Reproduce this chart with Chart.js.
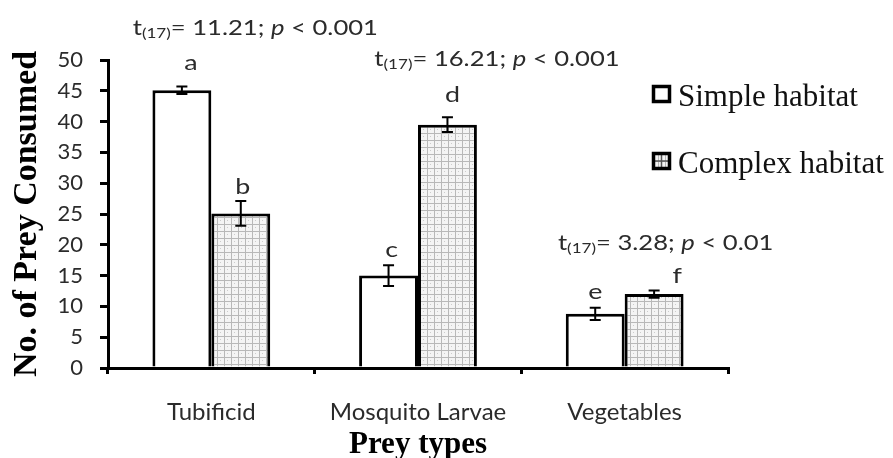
<!DOCTYPE html>
<html>
<head>
<meta charset="utf-8">
<script src="https://cdn.jsdelivr.net/npm/chart.js@4.4.1/dist/chart.umd.min.js"></script>
<style>
  html, body { margin: 0; padding: 0; background: #fff; }
  #wrap { width: 893px; height: 458px; }
</style>
</head>
<body>
<div id="wrap"><canvas id="myChart" width="893" height="458"></canvas></div>
<script>
// Datos
const categories = ['Tubificid', 'Mosquito Larvae', 'Vegetables'];
const seriesNames = ['Simple habitat', 'Complex habitat'];
const simpleValues = [45.1, 15.0, 8.8];
const complexValues = [25.1, 39.5, 12.0];
const simpleErrors = [0.6, 1.7, 1.0];
const complexErrors = [2.0, 1.2, 0.6];
const yTicks = { min: 0, max: 50, step: 5 };

// Letras de significancia: [serie, categoría, letra]
const letters = [[0, 0, 'a'], [1, 0, 'b'], [0, 1, 'c'], [1, 1, 'd'], [0, 2, 'e'], [1, 2, 'f']];
// Resultados de la prueba t por categoría
const tStats = [['11.21', '0.001'], ['16.21', '0.001'], ['3.28', '0.01']];

// Posición de las etiquetas (en unidades del eje y / desplazamiento px)
const letterPos = [[49.6, 9], [29.4, 2], [19.2, 3], [44.3, 5], [12.3, 0], [14.9, 23]];
const statPos = [[55.2, 44], [50.2, 79], [20.3, 41]];

const inkColor = '#2b2b2b';
const sansFont = 'Lato, "Liberation Sans", sans-serif';
const serifFont = '"Liberation Serif", "DejaVu Serif", serif';
const stretchX = 1.22; // la figura original está estirada en horizontal

// Patrón de cuadrícula para el hábitat complejo
function makeGridPattern() {
    const c = document.createElement('canvas');
    c.width = 7; c.height = 7;
    const g = c.getContext('2d');
    g.fillStyle = '#f4f4f4';
    g.fillRect(0, 0, 7, 7);
    g.fillStyle = '#b8b8b8';
    g.fillRect(0, 0, 7, 1);
    g.fillRect(0, 0, 1, 7);
    g.fillStyle = '#cccccc';
    g.fillRect(3, 3, 1, 1);
    return g.createPattern(c, 'repeat');
}
const gridPattern = makeGridPattern();

// texto estirado horizontalmente alrededor de (x, y)
function stretchedText(ctx, txt, x, y) {
    ctx.save();
    ctx.translate(x, y);
    ctx.scale(stretchX, 1);
    ctx.fillText(txt, 0, 0);
    ctx.restore();
}

// Barras de error, letras, estadísticos y leyenda
const annotations = {
    id: 'annotations',
    afterDatasetsDraw(chart) {
        const ctx = chart.ctx;
        const x = chart.scales.x, y = chart.scales.y;
        const errs = [simpleErrors, complexErrors];
        ctx.save();

        // barras de error
        ctx.strokeStyle = '#000';
        ctx.lineWidth = 2;
        chart.data.datasets.forEach((ds, i) => {
            chart.getDatasetMeta(i).data.forEach((bar, j) => {
                const v = ds.data[j], e = errs[i][j];
                const top = y.getPixelForValue(v + e);
                const bot = y.getPixelForValue(v - e);
                ctx.beginPath();
                ctx.moveTo(bar.x, top); ctx.lineTo(bar.x, bot);
                ctx.moveTo(bar.x - 5.5, top); ctx.lineTo(bar.x + 5.5, top);
                ctx.moveTo(bar.x - 5.5, bot); ctx.lineTo(bar.x + 5.5, bot);
                ctx.stroke();
            });
        });

        // letras
        ctx.fillStyle = inkColor;
        ctx.textAlign = 'center';
        ctx.textBaseline = 'middle';
        ctx.font = '22px ' + sansFont;
        letters.forEach(([s, c, txt], k) => {
            const bar = chart.getDatasetMeta(s).data[c];
            stretchedText(ctx, txt, bar.x + letterPos[k][1], y.getPixelForValue(letterPos[k][0]));
        });

        // estadísticos t
        tStats.forEach(([tv, pv], c) => {
            const parts = [
                { t: 't', f: '21px ' + sansFont, dy: 0 },
                { t: '(17)', f: '14px ' + sansFont, dy: 6 },
                { t: '= ' + tv + '; ', f: '21px ' + sansFont, dy: 0 },
                { t: 'p', f: 'italic 21px ' + sansFont, dy: 0 },
                { t: ' < ' + pv, f: '21px ' + sansFont, dy: 0 }
            ];
            let w = 0;
            parts.forEach(p => { ctx.font = p.f; p.w = ctx.measureText(p.t).width * stretchX; w += p.w; });
            let cx = x.getPixelForValue(c) + statPos[c][1] - w / 2;
            const cy = y.getPixelForValue(statPos[c][0]);
            ctx.textAlign = 'left';
            parts.forEach(p => {
                ctx.font = p.f;
                stretchedText(ctx, p.t, cx, cy + p.dy);
                cx += p.w;
            });
        });

        // leyenda
        const lx = chart.chartArea.right - 76;
        const rows = [85, 152];
        ctx.font = '31px ' + serifFont;
        ctx.textAlign = 'left';
        ctx.textBaseline = 'alphabetic';
        seriesNames.forEach((name, i) => {
            const ly = rows[i];
            ctx.fillStyle = i === 0 ? '#fff' : gridPattern;
            ctx.fillRect(lx, ly, 19, 18);
            if (i === 1) {
                ctx.strokeStyle = '#555';
                ctx.lineWidth = 1.5;
                ctx.beginPath();
                ctx.moveTo(lx + 9.5, ly); ctx.lineTo(lx + 9.5, ly + 18);
                ctx.moveTo(lx, ly + 9); ctx.lineTo(lx + 19, ly + 9);
                ctx.stroke();
            }
            ctx.strokeStyle = '#000';
            ctx.lineWidth = 3.5;
            ctx.strokeRect(lx + 1.5, ly + 1.5, 16, 15);
            ctx.fillStyle = '#111';
            ctx.fillText(name, lx + 26, ly + 21);
        });
        ctx.restore();
    }
};

const ctx = document.getElementById('myChart').getContext('2d');
const myChart = new Chart(ctx, {
    type: 'bar',
    data: {
        labels: categories,
        datasets: [{
            label: seriesNames[0],
            data: simpleValues,
            backgroundColor: '#ffffff',
            borderColor: '#000000',
            borderWidth: 3
        }, {
            label: seriesNames[1],
            data: complexValues,
            backgroundColor: gridPattern,
            borderColor: '#000000',
            borderWidth: 3
        }]
    },
    options: {
        responsive: false,
        animation: false,
        events: [],
        layout: { padding: { top: 60, right: 165, left: 0, bottom: 0 } },
        datasets: { bar: { categoryPercentage: 0.57, barPercentage: 1.0 } },
        plugins: { legend: { display: false }, tooltip: { enabled: false } },
        scales: {
            x: {
                afterFit(scale) { scale.height = 90; },
                border: { color: '#000', width: 3 },
                grid: { display: true, drawOnChartArea: false, color: '#000', lineWidth: 3, tickLength: 6, offset: true },
                ticks: { color: inkColor, font: { family: sansFont, size: 24 }, padding: 24 },
                title: {
                    display: true, text: 'Prey types', color: '#000',
                    font: { family: serifFont, size: 31, weight: 'bold', lineHeight: 1 },
                    padding: { top: 0, bottom: -2 }
                }
            },
            y: {
                min: yTicks.min,
                max: yTicks.max,
                afterFit(scale) { scale.width = 108; },
                border: { color: '#000', width: 3 },
                grid: { display: true, drawOnChartArea: false, color: '#000', lineWidth: 3, tickLength: 8 },
                ticks: { stepSize: yTicks.step, color: inkColor, font: { family: sansFont, size: 22 }, padding: 17 },
                title: {
                    display: true, text: 'No. of Prey Consumed', color: '#000',
                    font: { family: serifFont, size: 34, weight: 'bold', lineHeight: 1 },
                    padding: { top: 10, bottom: 0 }
                }
            }
        }
    },
    plugins: [annotations]
});
</script>
</body>
</html>
